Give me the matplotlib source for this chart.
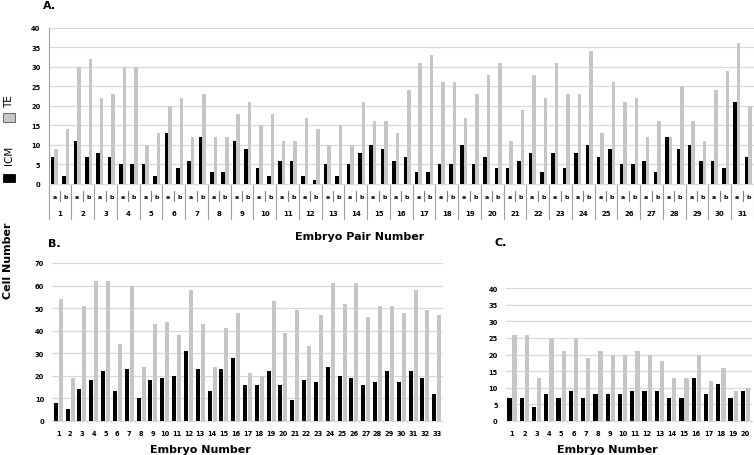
import numpy as np
import matplotlib
matplotlib.use("Agg")
import matplotlib.pyplot as plt
import matplotlib.transforms as mtransforms

plt.rcParams['font.family'] = ['DejaVu Sans']

# panel A: embryo pairs (a, b) -> ICM / TE counts, order 1a,1b,2a,2b,...
pair_numbers = list(range(1, 32))
icm_a = [7, 11, 8, 5, 5, 13, 6, 3, 11, 4, 6, 2, 5, 5, 10, 6, 3, 5, 10, 7, 4, 8, 8, 8, 7, 5, 6, 12, 10, 6, 21]
icm_b = [2, 7, 7, 5, 2, 4, 12, 3, 9, 2, 6, 1, 2, 8, 9, 7, 3, 5, 5, 4, 6, 3, 4, 10, 9, 5, 3, 9, 6, 4, 7]
te_a = [9, 30, 22, 30, 10, 20, 12, 12, 18, 15, 11, 17, 10, 10, 16, 13, 31, 26, 17, 28, 11, 28, 31, 23, 13, 21, 12, 12, 16, 24, 36]
te_b = [14, 32, 23, 30, 13, 22, 23, 12, 21, 18, 11, 14, 15, 21, 16, 24, 33, 26, 23, 31, 19, 22, 23, 34, 26, 22, 16, 25, 11, 29, 20]

# panel B
embryo_b = list(range(1, 34))
icm_B = [8, 5, 14, 18, 22, 13, 23, 10, 18, 19, 20, 31, 23, 13, 23, 28, 16, 16, 22, 16, 9, 18, 17, 24, 20, 19, 16, 17, 22, 17, 22, 19, 12]
te_B = [54, 19, 51, 62, 62, 34, 60, 24, 43, 44, 38, 58, 43, 24, 41, 48, 21, 20, 53, 39, 49, 33, 47, 61, 52, 61, 46, 51, 51, 48, 58, 49, 47]

# panel C
embryo_c = list(range(1, 21))
icm_C = [7, 7, 4, 8, 7, 9, 7, 8, 8, 8, 9, 9, 9, 7, 7, 13, 8, 11, 7, 9]
te_C = [26, 26, 13, 25, 21, 25, 19, 21, 20, 20, 21, 20, 18, 13, 13, 20, 12, 16, 9, 10]

ICM_COLOR = 'black'
TE_COLOR = '#c6c6c6'
GRID_COLOR = '#d9d9d9'
W, H = 754, 456

fig = plt.figure(figsize=(W / 100, H / 100), dpi=100)


def px_axes(left, top, right, bottom):
    return fig.add_axes([left / W, 1 - bottom / H, (right - left) / W, (bottom - top) / H])


def style_axes(ax, ymax, ystep, pad):
    ax.set_ylim(0, ymax)
    ax.set_yticks(np.arange(0, ymax + 1, ystep))
    ax.grid(axis='y', color=GRID_COLOR, linewidth=0.9, zorder=0)
    ax.set_axisbelow(True)
    for s in ['top', 'right', 'left']:
        ax.spines[s].set_visible(False)
    ax.spines['bottom'].set_color(GRID_COLOR)
    ax.tick_params(axis='both', length=0, labelsize=4.8, pad=pad)
    for lab in ax.get_yticklabels():
        lab.set_fontweight('bold')


# ---------- panel A ----------
axA = px_axes(48.7, 28.7, 754, 185)
icm_A = [v for pair in zip(icm_a, icm_b) for v in pair]
te_A = [v for pair in zip(te_a, te_b) for v in pair]
xA = np.arange(len(icm_A))
w = 0.31
axA.bar(xA - w / 2, icm_A, width=w, color=ICM_COLOR, zorder=3)
axA.bar(xA + w / 2, te_A, width=w, color=TE_COLOR, zorder=3)
axA.set_xlim(-0.5, len(xA) - 0.5)
style_axes(axA, 40, 5, 6)
axA.spines['left'].set_visible(True)
axA.spines['left'].set_color('#a0a0a0')
axA.set_xticks([])

trA = mtransforms.blended_transform_factory(axA.transData, axA.transAxes)
for i in xA:
    axA.text(i, -0.077, 'a' if i % 2 == 0 else 'b', transform=trA, ha='center', va='center',
             fontsize=4.5, fontweight='bold')
for i in range(len(pair_numbers) + 1):
    xd = 2 * i - 0.5
    axA.plot([xd, xd], [0, -0.224], transform=trA, color='#a0a0a0', lw=0.8, clip_on=False)
    if i < len(pair_numbers):
        axA.plot([xd + 1, xd + 1], [-0.043, -0.109], transform=trA, color='#808080', lw=0.8, clip_on=False)
        axA.text(xd + 1, -0.186, str(pair_numbers[i]), transform=trA, ha='center', va='center',
                 fontsize=5, fontweight='bold')
fig.text(359.7 / W, 1 - 236.7 / H, 'Embryo Pair Number', ha='center', va='center',
         fontsize=8, fontweight='bold')
fig.text(43 / W, 1 - 6 / H, 'A.', ha='left', va='center', fontsize=8, fontweight='bold')

# ---------- panel B ----------
axB = px_axes(52.4, 264, 442.6, 421.7)
xB = np.array(embryo_b)
axB.bar(xB - 0.21, icm_B, width=0.34, color=ICM_COLOR, zorder=3)
axB.bar(xB + 0.21, te_B, width=0.34, color=TE_COLOR, zorder=3)
axB.set_xlim(0.5, len(xB) + 0.5)
axB.set_xticks(xB)
style_axes(axB, 70, 10, 6)
axB.tick_params(axis='x', pad=7)
for lab in axB.get_xticklabels():
    lab.set_fontweight('bold')
fig.text(200 / W, 1 - 450 / H, 'Embryo Number', ha='center', va='center', fontsize=8, fontweight='bold')
fig.text(48 / W, 1 - 244 / H, 'B.', ha='left', va='center', fontsize=8, fontweight='bold')

# ---------- panel C ----------
axC = px_axes(505.9, 289.3, 751.5, 421.7)
xC = np.array(embryo_c)
axC.bar(xC - 0.21, icm_C, width=0.35, color=ICM_COLOR, zorder=3)
axC.bar(xC + 0.21, te_C, width=0.35, color=TE_COLOR, zorder=3)
axC.set_xlim(0.5, len(xC) + 0.5)
axC.set_xticks(xC)
style_axes(axC, 40, 5, 6)
axC.tick_params(axis='x', pad=7)
for lab in axC.get_xticklabels():
    lab.set_fontweight('bold')
fig.text(607 / W, 1 - 450 / H, 'Embryo Number', ha='center', va='center', fontsize=8, fontweight='bold')
fig.text(495 / W, 1 - 243 / H, 'C.', ha='left', va='center', fontsize=8, fontweight='bold')

# ---------- shared y label and legend ----------
fig.text(8 / W, 1 - 261 / H, 'Cell Number', rotation=90, ha='center', va='center',
         fontsize=8, fontweight='bold')
fig.patches.append(plt.Rectangle((2.5 / W, 1 - 183 / H), 12 / W, 8 / H, transform=fig.transFigure,
                                 facecolor=ICM_COLOR, edgecolor='black', lw=0.6))
fig.text(9 / W, 1 - 155 / H, 'ICM', rotation=90, ha='center', va='center', fontsize=7.5)
fig.patches.append(plt.Rectangle((2.5 / W, 1 - 123 / H), 12 / W, 9 / H, transform=fig.transFigure,
                                 facecolor=TE_COLOR, edgecolor='#555555', lw=0.6))
fig.text(9 / W, 1 - 102 / H, 'TE', rotation=90, ha='center', va='center', fontsize=7.5)

plt.savefig('out.png', dpi=100)
